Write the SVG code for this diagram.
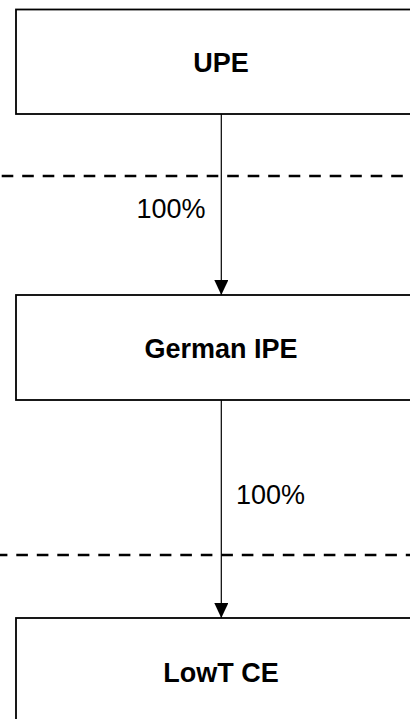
<svg xmlns="http://www.w3.org/2000/svg" width="410" height="719" viewBox="0 0 410 719">
  <style>
    .box { fill: #ffffff; stroke: #000000; stroke-width: 1.8; }
    .name { font-family: "Liberation Sans", Arial, sans-serif; font-size: 27px; font-weight: bold; fill: #000000; text-anchor: middle; }
    .pct { font-family: "Liberation Sans", Arial, sans-serif; font-size: 27px; fill: #000000; }
    .edge { stroke: #000000; stroke-width: 1.2; fill: none; }
    .border { stroke: #000000; stroke-width: 2.6; stroke-dasharray: 11.6 8.9; fill: none; }
  </style>
  <defs>
    <marker id="arrow" viewBox="0 0 15 14" refX="15" refY="7" markerWidth="15" markerHeight="14" markerUnits="userSpaceOnUse" orient="auto">
      <path d="M0,0 L15,7 L0,14 Z" fill="#000000"/>
    </marker>
  </defs>
  <rect width="410" height="719" fill="#ffffff"/>

  <!-- dashed boundaries -->
  <g id="boundaries">
    <line class="border" x1="1.7" y1="176" x2="410" y2="176"/>
    <line class="border" x1="0" y1="555" x2="410" y2="555" stroke-dashoffset="4.2"/>
  </g>

  <!-- ownership connectors -->
  <g id="connectors">
    <line class="edge" x1="221.3" y1="114" x2="221.3" y2="295" marker-end="url(#arrow)"/>
    <text class="pct" x="136.5" y="218">100%</text>
    <line class="edge" x1="221.3" y1="400" x2="221.3" y2="618" marker-end="url(#arrow)"/>
    <text class="pct" x="236" y="504">100%</text>
  </g>

  <g id="upe">
    <rect class="box" x="16" y="9.5" width="410" height="104.5"/>
    <text class="name" x="221" y="72">UPE</text>
  </g>

  <g id="german-ipe">
    <rect class="box" x="16" y="295" width="410" height="105"/>
    <text class="name" x="221" y="358">German IPE</text>
  </g>

  <g id="lowt-ce">
    <rect class="box" x="16" y="618" width="410" height="120"/>
    <text class="name" x="221" y="682">LowT CE</text>
  </g>
</svg>
